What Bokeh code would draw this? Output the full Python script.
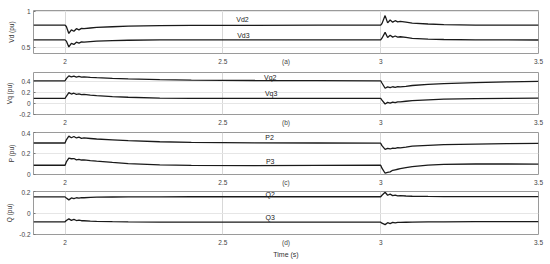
from bokeh.plotting import figure
from bokeh.layouts import column
from bokeh.models import FixedTicker, Range1d
from bokeh.embed import file_html
from bokeh.resources import INLINE
from bokeh.core.properties import value

# ---- data ----
t = [1.9, 2.0, 2.004, 2.012, 2.02, 2.028, 2.036, 2.044, 2.052, 2.06, 2.08, 2.1, 2.15, 2.2, 2.3, 2.4, 2.6, 2.8,
     3.0, 3.004, 3.014, 3.022, 3.03, 3.038, 3.046, 3.054, 3.062, 3.08, 3.1, 3.15, 3.2, 3.3, 3.4, 3.5]

Vd2 = [0.81, 0.81, 0.79, 0.695, 0.745, 0.725, 0.76, 0.745, 0.765, 0.76, 0.77, 0.778, 0.787, 0.795, 0.802, 0.805, 0.807, 0.808,
       0.808, 0.83, 0.94, 0.84, 0.88, 0.85, 0.87, 0.855, 0.86, 0.85, 0.838, 0.825, 0.817, 0.81, 0.808, 0.808]
Vd3 = [0.607, 0.607, 0.59, 0.51, 0.56, 0.545, 0.575, 0.563, 0.58, 0.575, 0.583, 0.59, 0.597, 0.602, 0.606, 0.607, 0.607, 0.607,
       0.607, 0.63, 0.71, 0.64, 0.67, 0.645, 0.66, 0.645, 0.65, 0.64, 0.628, 0.618, 0.612, 0.607, 0.606, 0.605]
Vq2 = [0.41, 0.41, 0.45, 0.50, 0.48, 0.495, 0.478, 0.488, 0.475, 0.48, 0.472, 0.466, 0.455, 0.445, 0.432, 0.423, 0.415, 0.412,
       0.41, 0.37, 0.275, 0.30, 0.285, 0.302, 0.292, 0.305, 0.30, 0.31, 0.325, 0.345, 0.36, 0.378, 0.39, 0.398]
Vq3 = [0.09, 0.09, 0.13, 0.195, 0.17, 0.185, 0.165, 0.175, 0.16, 0.163, 0.15, 0.14, 0.125, 0.112, 0.098, 0.093, 0.09, 0.09,
       0.09, 0.06, -0.01, 0.02, 0.005, 0.025, 0.015, 0.03, 0.028, 0.04, 0.05, 0.065, 0.077, 0.088, 0.093, 0.095]
P2 = [0.30, 0.30, 0.33, 0.365, 0.35, 0.362, 0.348, 0.355, 0.345, 0.348, 0.343, 0.338, 0.33, 0.322, 0.312, 0.306, 0.301, 0.30,
      0.298, 0.275, 0.24, 0.248, 0.243, 0.252, 0.248, 0.255, 0.254, 0.26, 0.27, 0.278, 0.285, 0.29, 0.294, 0.296]
P3 = [0.088, 0.088, 0.12, 0.155, 0.15, 0.152, 0.14, 0.145, 0.138, 0.14, 0.133, 0.127, 0.115, 0.104, 0.092, 0.087, 0.085, 0.086,
      0.088, 0.06, 0.012, 0.02, 0.025, 0.04, 0.045, 0.05, 0.055, 0.065, 0.075, 0.09, 0.097, 0.1, 0.1, 0.099]
Q2 = [0.15, 0.15, 0.14, 0.122, 0.14, 0.133, 0.142, 0.138, 0.143, 0.142, 0.145, 0.147, 0.149, 0.15, 0.15, 0.151, 0.151, 0.151,
      0.151, 0.165, 0.193, 0.165, 0.175, 0.162, 0.166, 0.16, 0.161, 0.158, 0.156, 0.154, 0.153, 0.152, 0.152, 0.152]
Q3 = [-0.082, -0.082, -0.07, -0.055, -0.068, -0.06, -0.07, -0.066, -0.072, -0.072, -0.076, -0.078, -0.081, -0.083, -0.085, -0.085, -0.085, -0.085,
      -0.085, -0.095, -0.108, -0.09, -0.098, -0.088, -0.092, -0.087, -0.088, -0.086, -0.085, -0.083, -0.082, -0.081, -0.081, -0.081]

x_ticks = [2, 2.5, 3, 3.5]
x_tick_labels = ["2", "2.5", "3", "3.5"]
panel_tags = ["(a)", "(b)", "(c)", "(d)"]
tag_x = 2.7

panels = [
    dict(ylabel="Vd (pu)", yr=(0.42, 1.01), yticks=[0.5, 1], ylabels=["0.5", "1"],
         series=[Vd2, Vd3], names=["Vd2", "Vd3"], name_x=[2.562, 2.565], name_y=[0.885, 0.667]),
    dict(ylabel="Vq (pu)", yr=(-0.2, 0.56), yticks=[-0.2, 0, 0.2, 0.4], ylabels=["-0.2", "0", "0.2", "0.4"],
         series=[Vq2, Vq3], names=["Vq2", "Vq3"], name_x=[2.65, 2.653], name_y=[0.467, 0.176]),
    dict(ylabel="P (pu)", yr=(0, 0.4), yticks=[0, 0.2, 0.4], ylabels=["0", "0.2", "0.4"],
         series=[P2, P3], names=["P2", "P3"], name_x=[2.648, 2.65], name_y=[0.35, 0.124]),
    dict(ylabel="Q (pu)", yr=(-0.2, 0.2), yticks=[-0.2, 0, 0.2], ylabels=["-0.2", "0", "0.2"],
         series=[Q2, Q3], names=["Q2", "Q3"], name_x=[2.65, 2.65], name_y=[0.175, -0.038]),
]

frame_h = [43, 42, 42, 43]
border_top = [10, 2, 2, 2]
border_bottom = [17, 16, 15, 26]

FONT = "Liberation Sans"
figs = []
for i, pc in enumerate(panels):
    p = figure(frame_width=505, frame_height=frame_h[i], output_backend="svg", toolbar_location=None,
               x_range=Range1d(1.9, 3.5), y_range=Range1d(*pc["yr"]),
               min_border_left=33, min_border_right=10, min_border_top=border_top[i],
               min_border_bottom=border_bottom[i])
    p.outline_line_color = "#9a9a9a"
    p.outline_line_width = 1
    p.background_fill_color = "white"
    p.border_fill_color = "white"

    # x axis: ticks plus the panel tag
    ticks = x_ticks + [tag_x]
    p.xaxis.ticker = FixedTicker(ticks=ticks)
    ov = {x: lab for x, lab in zip(x_ticks, x_tick_labels)}
    ov[tag_x] = panel_tags[i]
    p.xaxis.major_label_overrides = ov
    p.xaxis.major_tick_in = 0
    p.xaxis.major_tick_out = 0
    p.xaxis.minor_tick_line_color = None
    p.xaxis.axis_line_color = None
    p.xaxis.major_label_standoff = 4
    p.xaxis.major_label_text_font = FONT
    p.xaxis.major_label_text_font_size = "6.5px"
    p.xaxis.major_label_text_color = "#444444"
    if i == 3:
        p.xaxis.major_label_standoff = 4
        p.xaxis.axis_label = "Time (s)"
        p.xaxis.axis_label_text_font = FONT
        p.xaxis.axis_label_text_font_size = "7px"
        p.xaxis.axis_label_text_font_style = "normal"
        p.xaxis.axis_label_text_color = "#333333"
        p.xaxis.axis_label_standoff = 2

    p.xgrid.ticker = FixedTicker(ticks=x_ticks)
    p.xgrid.grid_line_color = "#d8d8d8"
    p.xgrid.grid_line_width = 1

    # y axis
    p.yaxis.ticker = FixedTicker(ticks=pc["yticks"])
    p.yaxis.major_label_overrides = {v: lab for v, lab in zip(pc["yticks"], pc["ylabels"])}
    p.yaxis.major_tick_in = 2
    p.yaxis.major_tick_out = 0
    p.yaxis.major_tick_line_color = "#777777"
    p.yaxis.minor_tick_line_color = None
    p.yaxis.axis_line_color = None
    p.yaxis.major_label_standoff = 3
    p.yaxis.major_label_text_font = FONT
    p.yaxis.major_label_text_font_size = "6.5px"
    p.yaxis.major_label_text_color = "#444444"
    p.yaxis.axis_label = pc["ylabel"]
    p.yaxis.axis_label_text_font = FONT
    p.yaxis.axis_label_text_font_size = "6.5px"
    p.yaxis.axis_label_text_font_style = "normal"
    p.yaxis.axis_label_text_color = "#333333"
    p.yaxis.axis_label_standoff = 3
    p.ygrid.ticker = FixedTicker(ticks=pc["yticks"])
    p.ygrid.grid_line_color = "#e6e6e6"
    p.ygrid.grid_line_width = 1

    for s in pc["series"]:
        p.line(t, s, line_color="#1a1a1a", line_width=1.3)

    p.text(x=pc["name_x"], y=pc["name_y"], text=pc["names"], text_font=value(FONT),
           text_font_size="7px", text_align="center", text_baseline="middle", text_color="#222222")
    figs.append(p)

layout = column(*figs, spacing=0)
open("out.html", "w").write(file_html(layout, INLINE))
